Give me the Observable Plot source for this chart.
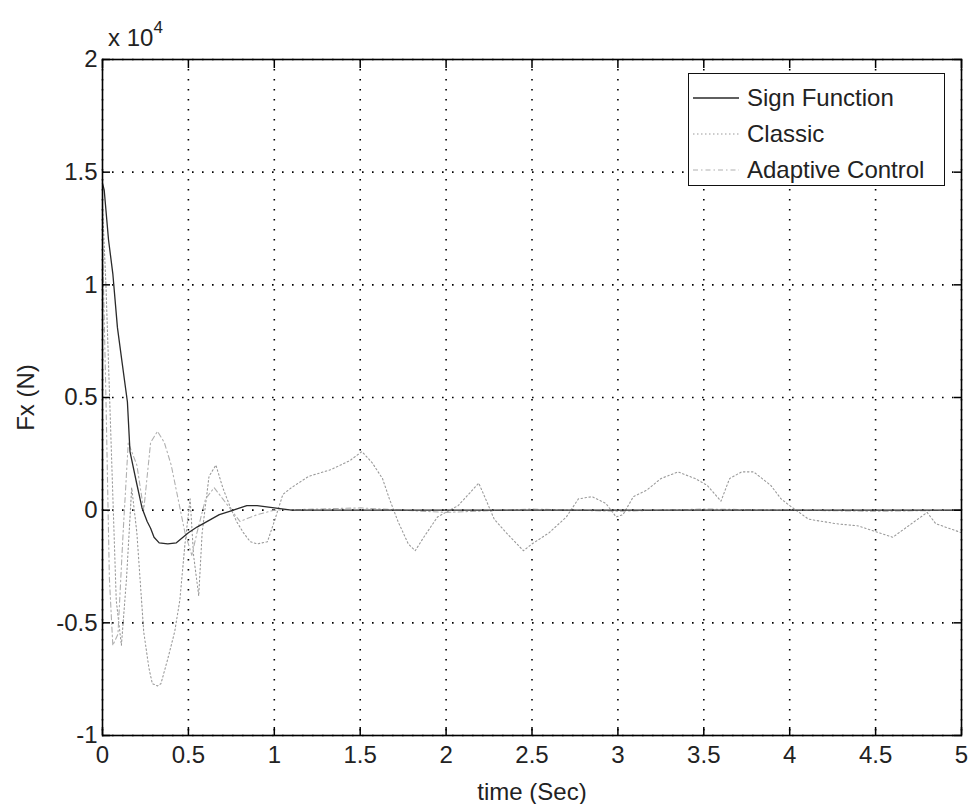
<!DOCTYPE html>
<html>
<head>
<meta charset="utf-8">
<script src="https://cdn.jsdelivr.net/npm/d3@7"></script>
<script src="https://cdn.jsdelivr.net/npm/@observablehq/plot@0.6"></script>
<style>
  html, body { margin: 0; padding: 0; background: #fff; }
  #wrap { position: relative; width: 968px; height: 804px; font-family: "Liberation Sans", Arial, sans-serif; color: #222; }
  #exp { position: absolute; left: 108px; top: 22px; font-size: 24px; }
  #exp sup { font-size: 17px; position: relative; top: -4px; }
  #legend { position: absolute; left: 688px; top: 73px; width: 257px; height: 113px; border: 1.5px solid #111; background: #fff; box-sizing: border-box; }
  .row { position: absolute; left: 0; height: 36px; display: flex; align-items: center; font-size: 24px; }
  .row svg { margin-left: 4px; margin-right: 8px; }
</style>
</head>
<body>
<div id="wrap">
  <div id="chart"></div>
  <div id="exp">x 10<sup>4</sup></div>
  <div id="legend"></div>
</div>
<script>
// ---- data (values in N) ----
const seriesNames = ["Sign Function", "Classic", "Adaptive Control"];

const signT = [0, 0.01, 0.035, 0.06, 0.087, 0.115, 0.145, 0.16, 0.2, 0.23, 0.26, 0.28, 0.3, 0.33, 0.38, 0.43, 0.5, 0.55, 0.61, 0.68, 0.74, 0.84, 0.9, 1.0, 1.1, 1.5, 2, 2.5, 3, 3.5, 4, 4.5, 5];
const signV = [14500, 14200, 12000, 10500, 8100, 6500, 4800, 2600, 1150, 100, -500, -800, -1200, -1450, -1500, -1450, -1000, -750, -500, -200, -50, 200, 200, 100, 0, 0, 0, 0, 0, 0, 0, 0, 0];

const classicT = [0, 0.02, 0.05, 0.08, 0.11, 0.14, 0.17, 0.2, 0.24, 0.27, 0.29, 0.32, 0.34, 0.38, 0.42, 0.45, 0.48, 0.51, 0.53, 0.56, 0.58, 0.62, 0.66, 0.7, 0.74, 0.78, 0.82, 0.86, 0.9, 0.96, 1.0, 1.05, 1.1, 1.2, 1.33, 1.44, 1.51, 1.57, 1.63, 1.67, 1.72, 1.78, 1.82, 1.87, 1.95, 2.07, 2.19, 2.23, 2.28, 2.35, 2.45, 2.5, 2.6, 2.7, 2.77, 2.85, 2.93, 2.99, 3.03, 3.09, 3.17, 3.25, 3.35, 3.45, 3.52, 3.6, 3.65, 3.72, 3.79, 3.89, 3.95, 4.0, 4.11, 4.27, 4.4, 4.6, 4.8, 4.85, 5.0];
const classicV = [13500, 10000, 3000, -4000, -6000, -3000, 1000, -1000, -5400, -7000, -7700, -7800, -7700, -6600, -5400, -4000, -1500, 500, -2000, -3800, -1000, 1500, 2000, 1000, 200, -500, -1000, -1400, -1500, -1400, -500, 700, 1000, 1500, 1800, 2200, 2600, 2100, 1400, 500, -500, -1500, -1800, -1200, -300, 200, 1200, 500, -400, -1000, -1800, -1500, -1000, -300, 500, 600, 300, -300, -200, 600, 900, 1400, 1700, 1400, 1100, 400, 1400, 1700, 1700, 1100, 500, 200, -400, -600, -700, -1200, -100, -600, -1000];

const adaptT = [0, 0.02, 0.04, 0.06, 0.09, 0.12, 0.15, 0.2, 0.24, 0.28, 0.32, 0.36, 0.4, 0.44, 0.48, 0.52, 0.55, 0.6, 0.65, 0.7, 0.75, 0.8, 0.9, 1.0, 1.5, 2, 2.5, 3, 3.5, 4, 4.5, 5];
const adaptV = [12000, 5000, -3000, -6000, -5500, -1000, 3000, 2000, 0, 3000, 3500, 3000, 2000, 500, -1000, -2000, -1000, 500, 1000, 500, 0, -500, -200, 0, 100, -100, 50, -50, 50, 0, -50, 0];

const xTicks = [0, 0.5, 1, 1.5, 2, 2.5, 3, 3.5, 4, 4.5, 5];
const yTicks = [-10000, -5000, 0, 5000, 10000, 15000, 20000];

// ---- build table ----
const data = [];
signT.forEach((t, i) => data.push({t, v: signV[i], s: seriesNames[0]}));
classicT.forEach((t, i) => data.push({t, v: classicV[i], s: seriesNames[1]}));
adaptT.forEach((t, i) => data.push({t, v: adaptV[i], s: seriesNames[2]}));

const styles = {
  "Sign Function": {stroke: "#2a2a2a", dash: null, w: 1.3},
  "Classic": {stroke: "#9a9a9a", dash: "1.5,2.5", w: 1.1},
  "Adaptive Control": {stroke: "#b0b0b0", dash: "5,3,1.5,3", w: 1.1}
};

const font = "Liberation Sans, Arial, sans-serif";
const chart = Plot.plot({
  width: 968,
  height: 804,
  marginLeft: 102,
  marginRight: 7,
  marginTop: 59,
  marginBottom: 69,
  style: {fontFamily: font, fontSize: "24px", color: "#222", background: "#fff"},
  x: {domain: [0, 5]},
  y: {domain: [-10000, 20000]},
  marks: [
    Plot.gridX(xTicks, {stroke: "#000", strokeOpacity: 1, strokeWidth: 1.6, strokeDasharray: "1.6,8.4"}),
    Plot.gridY(yTicks, {stroke: "#000", strokeOpacity: 1, strokeWidth: 1.6, strokeDasharray: "1.6,8.4"}),
    ...[seriesNames[1], seriesNames[2], seriesNames[0]].map(name =>
      Plot.line(data.filter(d => d.s === name), {x: "t", y: "v", stroke: styles[name].stroke, strokeWidth: styles[name].w, strokeDasharray: styles[name].dash})
    ),
    Plot.axisX(xTicks, {anchor: "bottom", tickSize: -8, tickFormat: () => "", label: null, stroke: "#000", strokeWidth: 1.5}),
    Plot.axisX(xTicks, {anchor: "top", tickSize: -8, tickFormat: () => "", label: null, stroke: "#000", strokeWidth: 1.5}),
    Plot.axisY(yTicks, {anchor: "left", tickSize: -8, tickFormat: () => "", label: null, stroke: "#000", strokeWidth: 1.5}),
    Plot.axisY(yTicks, {anchor: "right", tickSize: -8, tickFormat: () => "", label: null, stroke: "#000", strokeWidth: 1.5}),
    Plot.axisX(xTicks, {anchor: "bottom", tickSize: 0, tickPadding: 10, tickFormat: d => `${d}`, fontSize: 24, fill: "#222",
      label: "time (Sec)", labelAnchor: "center", labelArrow: "none", labelOffset: 64}),
    Plot.axisY(yTicks, {anchor: "left", tickSize: 0, tickPadding: 5, tickFormat: d => `${d / 10000}`, fontSize: 24, fill: "#222",
      label: "Fx (N)", labelAnchor: "center", labelArrow: "none", labelOffset: 86}),
    Plot.frame({stroke: "#000", strokeWidth: 1.6})
  ]
});
document.getElementById("chart").appendChild(chart);

// ---- legend ----
const legend = document.getElementById("legend");
seriesNames.forEach((name, i) => {
  const row = document.createElement("div");
  row.className = "row";
  row.style.top = (6 + i * 36) + "px";
  const st = styles[name];
  row.innerHTML = `<svg width="46" height="10"><line x1="0" y1="5" x2="46" y2="5" stroke="${st.stroke}" stroke-width="${st.w}" ${st.dash ? `stroke-dasharray="${st.dash}"` : ""}/></svg><span>${name}</span>`;
  legend.appendChild(row);
});
</script>
</body>
</html>
